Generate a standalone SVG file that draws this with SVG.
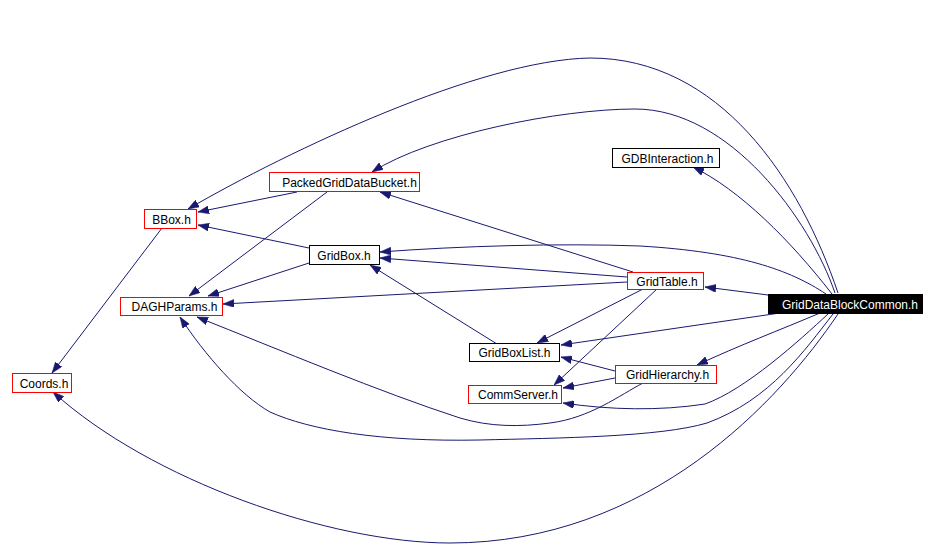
<svg xmlns="http://www.w3.org/2000/svg" width="936" height="558" viewBox="0 0 936 558">
<style>
.n rect{fill:#fff;stroke-width:1}
.r rect{stroke:#ff0000}
.k rect{stroke:#000}
text{font-family:"Liberation Sans",Arial,Helvetica,sans-serif;font-size:12px;fill:#000;text-anchor:middle}
.root rect{fill:#000;stroke:#000}
.root text{fill:#fff}
#edges path{fill:none;stroke:#191970;stroke-width:1;marker-end:url(#ah)}
</style>
<defs>
<marker id="ah" markerUnits="userSpaceOnUse" markerWidth="11" markerHeight="8" refX="11" refY="4" orient="auto">
<path d="M0,0 L11,4 L0,8 z" fill="#191970" stroke="#191970" stroke-width="0.5"/>
</marker>
</defs>
<rect width="936" height="558" fill="#fff"/>
<g id="edges">
<path d="M838,293 C800,180 720,58 590,58 C480,60 290,150 188,209"/>
<path d="M835,293 C810,220 730,109 635,109 C560,109 430,135 372,172"/>
<path d="M832,294 C790,240 740,190 693,167"/>
<path d="M826,294 C790,270 740,252 640,246 C560,243 460,246 380,252"/>
<path d="M768,295 L705,287"/>
<path d="M780,313 L561,345"/>
<path d="M820,313 C780,330 740,345 697,365"/>
<path d="M828,314 C800,340 745,390 705,404 C660,411 610,410 563,403"/>
<path d="M833,314 C805,350 770,400 707,423 C660,437 560,438 480,440 C380,442 310,430 270,412 C240,395 205,355 180,317"/>
<path d="M838,314 C780,400 650,543 450,543 C330,543 150,480 53,392"/>
<path d="M627,277 L380,258"/>
<path d="M633,272 L380,192"/>
<path d="M627,282 L223,304"/>
<path d="M643,289 L537,343"/>
<path d="M657,289 L554,385"/>
<path d="M497,344 L370,265"/>
<path d="M615,371 L561,357"/>
<path d="M615,378 L563,388"/>
<path d="M643,383 C620,395 590,418 550,423 C520,427 490,427 460,418 C380,392 280,350 197,317"/>
<path d="M309,248 L198,225"/>
<path d="M309,263 L208,296"/>
<path d="M297,192 L198,212"/>
<path d="M327,192 L189,296"/>
<path d="M162,228 L52,373"/>
</g>
<g id="GridDataBlockCommon" class="n root"><rect x="768.5" y="294.5" width="154" height="19"/><text x="850" y="308.5">GridDataBlockCommon.h</text></g>
<g id="GDBInteraction" class="n k"><rect x="612.5" y="148.5" width="107" height="19"/><text x="667.5" y="162.5">GDBInteraction.h</text></g>
<g id="GridTable" class="n r"><rect x="627.5" y="272.5" width="76" height="17"/><text x="667" y="285.5">GridTable.h</text></g>
<g id="PackedGridDataBucket" class="n r"><rect x="269.5" y="172.5" width="150" height="19"/><text x="349.5" y="186.5">PackedGridDataBucket.h</text></g>
<g id="GridBox" class="n k"><rect x="309.5" y="245.5" width="70" height="19"/><text x="344" y="259.5">GridBox.h</text></g>
<g id="BBox" class="n r"><rect x="144.5" y="209.5" width="52" height="19"/><text x="171.5" y="223.5">BBox.h</text></g>
<g id="DAGHParams" class="n r"><rect x="120.5" y="297.5" width="102" height="18"/><text x="174.5" y="311">DAGHParams.h</text></g>
<g id="GridBoxList" class="n k"><rect x="469.5" y="343.5" width="90" height="18"/><text x="514.5" y="357">GridBoxList.h</text></g>
<g id="GridHierarchy" class="n r"><rect x="615.5" y="365.5" width="101" height="18"/><text x="667.5" y="379">GridHierarchy.h</text></g>
<g id="CommServer" class="n r"><rect x="468.5" y="385.5" width="93" height="18"/><text x="518" y="399">CommServer.h</text></g>
<g id="Coords" class="n r"><rect x="12.5" y="373.5" width="59" height="19"/><text x="44" y="387.5">Coords.h</text></g>
</svg>
